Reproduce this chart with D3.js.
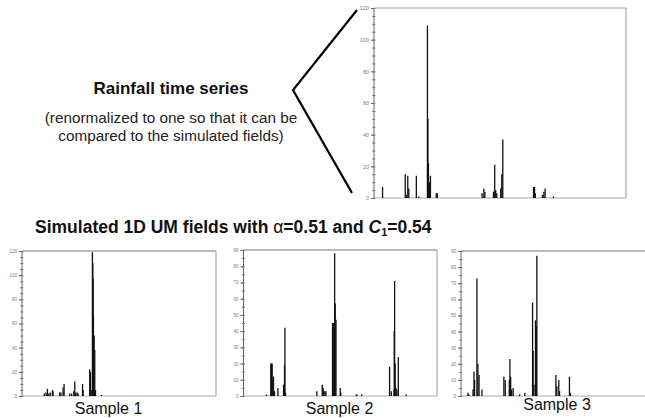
<!DOCTYPE html>
<html><head><meta charset="utf-8">
<script src="https://cdn.jsdelivr.net/npm/d3@7"></script>
<style>
html,body{margin:0;padding:0;background:#fff;}
svg{display:block;font-family:"Liberation Sans",Arial,sans-serif;}
</style></head>
<body><svg id="c" width="645" height="418"></svg>
<script>
// Observed rainfall series (time step 0..1000, renormalized intensity)
const rainT = [34,124,128,134,138,168,178,212,214,216,218,221,224,247,251,429,436,440,474,479,483,487,503,507,511,633,637,640,668,674,679,712];
const rainV = [7,15,2,14,6,14,1,109,50,22,5,10,14,3,3,3,6,4,4,21,5,3,6,15,37,7,7,3,2,4,6,1];
// Simulated UM samples
const s1T = [115,124,131,138,146,157,160,194,201,212,217,246,256,267,272,277,284,289,312,315,349,353,360,363,365,367,368,372,375,379,410];
const s1V = [2,3,6,2,3,5,4,3,3,7,10,2,2,4,12,3,3,2,10,5,22,20,5,119,110,97,67,50,38,5,1];
const s2T = [119,141,145,148,152,155,160,178,207,212,214,217,379,407,412,416,421,426,460,466,471,474,478,500,503,583,586,610,755,764,778,779,781,784,788,793,800,841];
const s2V = [1,20,20,20,10,12,3,5,7,19,42,2,3,7,5,3,3,3,45,45,88,57,47,5,2,1,1,1,18,3,4,40,71,20,5,4,24,1];
const s3T = [36,41,62,67,70,82,87,93,108,221,228,249,252,256,261,269,302,329,369,372,376,384,388,391,489,494,504,508,559,564];
const s3V = [2,1,4,15,10,73,20,13,4,12,10,10,23,12,4,5,1,2,58,28,7,47,43,87,13,6,10,3,12,2];
const sampleLabels = ["Sample 1","Sample 2","Sample 3"];
const rainYTicks = [0,20,40,60,80,100,120];
const s1YTicks = [0,20,40,60,80,100,120];
const s23YTicks = [0,10,20,30,40,50,60,70,80,90];

const svg = d3.select("#c");

function panel(o){
  const g = svg.append("g");
  const x = d3.scaleLinear().domain([0,1000]).range([o.l,o.r]);
  const y = d3.scaleLinear().domain([0,o.ymax]).range([o.b,o.t]);
  // frame
  g.append("line").attr("x1",o.l).attr("x2",o.r).attr("y1",o.t).attr("y2",o.t).attr("stroke",o.topCol).attr("stroke-width",1.2);
  g.append("line").attr("x1",o.r).attr("x2",o.r).attr("y1",o.t).attr("y2",o.b).attr("stroke","#aaa").attr("stroke-width",1.2);
  g.append("line").attr("x1",o.l).attr("x2",o.r).attr("y1",o.b).attr("y2",o.b).attr("stroke","#aaa").attr("stroke-width",1.2);
  // minor ticks
  const minor = d3.axisLeft(y).tickValues(d3.range(0,o.ymax+0.001,o.minor)).tickSize(2).tickFormat("");
  g.append("g").attr("transform",`translate(${o.l},0)`).call(minor)
    .call(a=>a.select(".domain").remove())
    .call(a=>a.selectAll("line").attr("stroke","#888").attr("x2",-2).attr("x1",1.5));
  const ax = d3.axisLeft(y).tickValues(o.ticks).tickSize(3).tickPadding(2);
  g.append("g").attr("transform",`translate(${o.l},0)`).call(ax)
    .call(a=>a.select(".domain").attr("stroke","#666").attr("d",`M0,${o.b}V${o.t}`))
    .call(a=>a.selectAll("line").attr("stroke","#666"))
    .call(a=>a.selectAll("text").attr("font-size",o.fs).attr("fill","#777").attr("font-family","Liberation Sans, Arial"));
  g.selectAll(".bar").data(o.T.map((t,i)=>({t,v:o.V[i]}))).enter().append("line")
    .attr("x1",d=>x(d.t)).attr("x2",d=>x(d.t))
    .attr("y1",y(0)).attr("y2",d=>y(d.v))
    .attr("stroke","#111").attr("stroke-width",1.3);
}

panel({l:374,r:626,t:8,b:198,ymax:120,ticks:rainYTicks,minor:5,fs:5.5,T:rainT,V:rainV,topCol:"#aaa"});
panel({l:22,r:216,t:251,b:396,ymax:120,ticks:s1YTicks,minor:5,fs:4.5,T:s1T,V:s1V,topCol:"#777"});
panel({l:243.5,r:437,t:250,b:396,ymax:90,ticks:s23YTicks,minor:5,fs:4.5,T:s2T,V:s2V,topCol:"#777"});
panel({l:461,r:655,t:251,b:396,ymax:90,ticks:s23YTicks,minor:5,fs:4.5,T:s3T,V:s3V,topCol:"#777"});

// bracket
svg.append("path").attr("d","M357,10L293,90L352,193").attr("fill","none").attr("stroke","#000").attr("stroke-width",2.2);

// texts
svg.append("text").attr("x",171).attr("y",94).attr("text-anchor","middle").attr("font-size",17).attr("font-weight","bold").attr("fill","#111").text("Rainfall time series");
svg.append("text").attr("x",171).attr("y",123).attr("text-anchor","middle").attr("font-size",15.3).attr("fill","#222").text("(renormalized to one so that it can be");
svg.append("text").attr("x",171).attr("y",141).attr("text-anchor","middle").attr("font-size",15.3).attr("fill","#222").text("compared to the simulated fields)");
const tt = svg.append("text").attr("x",35).attr("y",233).attr("font-size",17.5).attr("font-weight","bold").attr("fill","#111");
tt.append("tspan").text("Simulated 1D UM fields with ");
tt.append("tspan").attr("font-weight","normal").text("α");
tt.append("tspan").text("=0.51 and ");
tt.append("tspan").attr("font-style","italic").text("C");
tt.append("tspan").attr("font-size",11).attr("dy",3).text("1");
tt.append("tspan").attr("dy",-3).text("=0.54");

const sx=[108.5,339.5,557], sy=[414,414,410];
svg.selectAll(".sl").data(sampleLabels).enter().append("text")
  .attr("x",(d,i)=>sx[i]).attr("y",(d,i)=>sy[i]).attr("text-anchor","middle")
  .attr("font-size",16).attr("fill","#111").text(d=>d);
</script></body></html>
